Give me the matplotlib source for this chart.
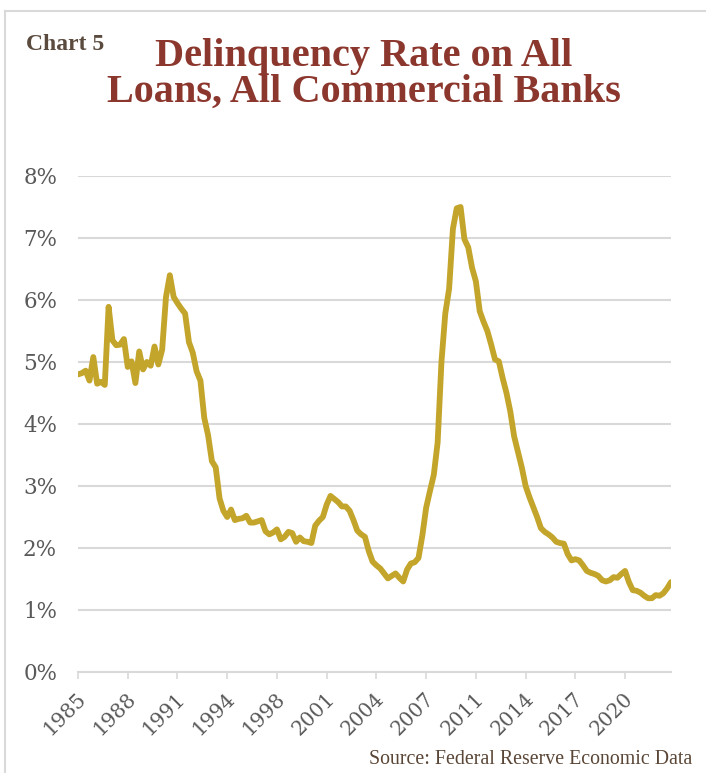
import matplotlib
matplotlib.use("Agg")
import matplotlib.pyplot as plt
import matplotlib.transforms as mtransforms
from matplotlib.lines import Line2D

# Quarterly delinquency rate (%), 1985Q1 .. 2023Q4
rates = [
    4.80, 4.82, 4.86, 4.70, 5.08, 4.65, 4.68, 4.63, 5.89, 5.35,
    5.27, 5.28, 5.37, 4.92, 5.01, 4.66, 5.17, 4.88, 5.00, 4.94,
    5.25, 4.96, 5.20, 6.05, 6.40, 6.05, 5.95, 5.86, 5.78, 5.32,
    5.15, 4.85, 4.70, 4.10, 3.82, 3.40, 3.30, 2.80, 2.60, 2.50,
    2.62, 2.45, 2.47, 2.48, 2.52, 2.41, 2.41, 2.43, 2.45, 2.27,
    2.22, 2.25, 2.30, 2.14, 2.18, 2.26, 2.24, 2.10, 2.17, 2.11,
    2.10, 2.08, 2.36, 2.44, 2.50, 2.70, 2.84, 2.79, 2.74, 2.67,
    2.67, 2.60, 2.45, 2.28, 2.22, 2.18, 1.95, 1.78, 1.72, 1.67,
    1.59, 1.51, 1.55, 1.59, 1.52, 1.46, 1.65, 1.75, 1.77, 1.84,
    2.20, 2.65, 2.92, 3.18, 3.70, 5.00, 5.78, 6.18, 7.15, 7.48,
    7.50, 6.98, 6.85, 6.52, 6.30, 5.82, 5.65, 5.50, 5.28, 5.04,
    5.01, 4.74, 4.50, 4.20, 3.80, 3.55, 3.30, 3.00, 2.82, 2.66,
    2.50, 2.32, 2.26, 2.22, 2.17, 2.10, 2.08, 2.07, 1.90, 1.80,
    1.82, 1.80, 1.72, 1.63, 1.60, 1.58, 1.55, 1.48, 1.46, 1.48,
    1.53, 1.52, 1.58, 1.63, 1.45, 1.32, 1.31, 1.28, 1.23, 1.19,
    1.19, 1.24, 1.23, 1.27, 1.35, 1.45,
]
start_year = 1985
tick_step = 13  # quarters between labels
y_ticks = [0, 1, 2, 3, 4, 5, 6, 7, 8]
y_labels = [f"{v}%" for v in y_ticks]

title = "Delinquency Rate on All\nLoans, All Commercial Banks"
chart_label = "Chart 5"
source = "Source: Federal Reserve Economic Data"

W, H = 706, 773
fig = plt.figure(figsize=(W / 100, H / 100), dpi=100)
fig.patch.set_facecolor("white")

ax = fig.add_axes([78 / W, 1 - 672 / H, (671 - 78) / W, (672 - 176) / H])
n = len(rates)
xs = list(range(n))
ax.plot(xs, rates, color="#C4A52B", lw=4.2, solid_joinstyle="round",
        solid_capstyle="round", zorder=3)

ax.set_xlim(0, n - 1)
ax.set_ylim(0, 8)
ax.set_yticks(y_ticks)
ax.set_yticklabels(y_labels)
ticks = list(range(0, n, tick_step))
ax.set_xticks(ticks)
ax.set_xticklabels([str(start_year + t // 4) for t in ticks])

for s in ["top", "right", "left"]:
    ax.spines[s].set_visible(False)
ax.spines["bottom"].set_color("#D9D9D9")
ax.spines["bottom"].set_linewidth(1.5)
ax.grid(axis="y", color="#D9D9D9", lw=1.5)
ax.set_axisbelow(True)

ax.tick_params(axis="y", length=0, pad=15, labelsize=15.5, labelcolor="#595959")
ax.tick_params(axis="x", length=5, width=1.2, color="#D9D9D9", pad=12,
               labelsize=14.5, labelcolor="#595959", direction="out")
for lab in ax.get_yticklabels() + ax.get_xticklabels():
    lab.set_fontfamily("DejaVu Serif")
shift = mtransforms.ScaledTranslation(5 / 100, 0, fig.dpi_scale_trans)
for lab in ax.get_xticklabels():
    lab.set_rotation(45)
    lab.set_rotation_mode("anchor")
    lab.set_ha("right")
    lab.set_va("center")
    lab.set_transform(lab.get_transform() + shift)

fig.text(150 / W + (578 - 150) / 2 / W, 1 - 38 / H, title, ha="center", va="top",
         fontsize=29, fontweight="bold", family="Liberation Serif",
         color="#8C372D", linespacing=0.97)
fig.text(26 / W, 1 - 50 / H, chart_label, ha="left", va="baseline",
         fontsize=17, fontweight="bold", family="Liberation Serif", color="#5B4B3F")
fig.text(692 / W, 1 - 764 / H, source, ha="right", va="baseline",
         fontsize=14.3, family="Liberation Serif", color="#5A4636")

# light frame lines (left and top)
fig.add_artist(Line2D([5 / W, 5 / W], [0, 1 - 11 / H], color="#D9D9D9", lw=1.5,
                      transform=fig.transFigure))
fig.add_artist(Line2D([5 / W, 1], [1 - 11 / H, 1 - 11 / H], color="#D9D9D9", lw=1.5,
                      transform=fig.transFigure))

fig.savefig("out.png", dpi=100, facecolor="white")
